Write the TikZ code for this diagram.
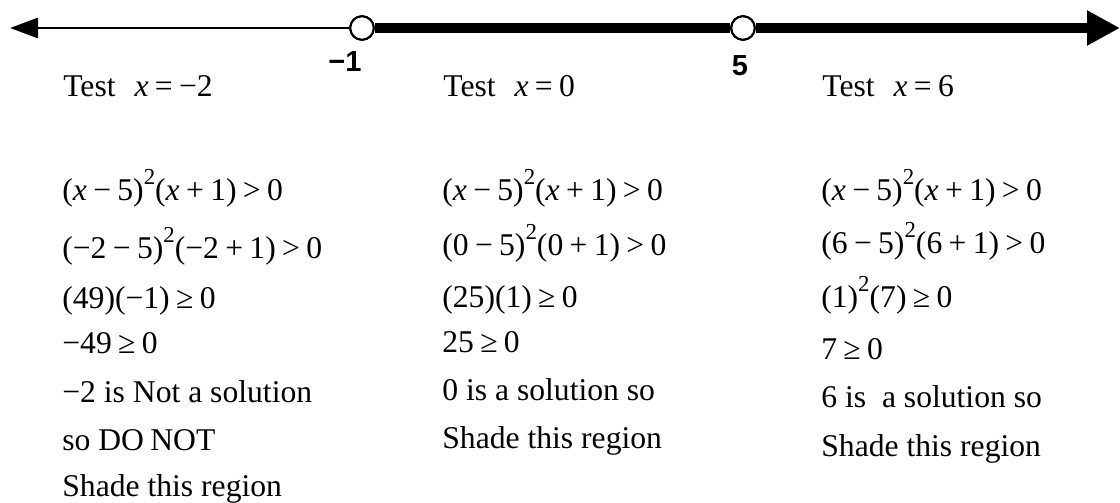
\documentclass[tikz,border=0pt]{standalone}
\usepackage{fontspec}
\setmainfont{Liberation Serif}
\setsansfont{Liberation Sans}
\usepackage{tikz}
\usetikzlibrary{arrows.meta}

\newcommand{\xv}{\textit{x}}
\newcommand{\sq}{\raisebox{0.5em}{\fontsize{13}{13}\selectfont 2}}
\newcommand{\op}[1]{\hspace{0.2em}#1\hspace{0.2em}}

\begin{document}
\begin{tikzpicture}[
    x=0.2mm,y=-0.2mm,
    hole/.style={circle,draw,fill=white,line width=1.2pt,minimum size=4.7mm,inner sep=0pt},
    thinline/.style={line width=1.7pt,-{Triangle[length=5.6mm,width=4mm]}},
    thickline/.style={line width=5.7pt},
    tick/.style={font=\sffamily\bfseries\fontsize{16.5}{18}\selectfont,anchor=base},
    work/.style={anchor=base west,inner sep=0pt,font=\fontsize{18}{20}\selectfont},
]
\useasboundingbox (0,0) rectangle (1120,503);

% ===== Number line =====
\coordinate (leftend) at (10,28);
\coordinate (rightend) at (1120,28);
\node[hole] (neg1) at (362,28) {};
\node[hole] (five) at (743,28) {};
\draw[thinline] (neg1.west) -- (leftend);
\draw[thickline] (neg1.east) -- (five.west);
\draw[thickline,-{Triangle[length=6.6mm,width=6.6mm]}] (five.east) -- (rightend);
\node[hole] at (neg1) {};
\node[hole] at (five) {};

\node[tick] (lblneg1) at (345,72) {−1};
\node[tick] (lblfive) at (740,75) {5};

% ===== Test x = -2 =====
\node[work] (ta) at (63,97) {Test\hspace{0.6em}\xv\op{=}−2};
\node[work] (a1) at (62,200) {(\xv\op{−}5)\sq(\xv\op{+}1)\op{>}0};
\node[work] (a2) at (62,258) {(−2\op{−}5)\sq(−2\op{+}1)\op{>}0};
\node[work] (a3) at (62,308) {(49)(−1)\op{≥}0};
\node[work] (a4) at (62,353) {−49\op{≥}0};
\node[work] (a5) at (62,402) {−2 is Not a solution};
\node[work] (a6) at (62,450) {so DO\hspace{0.2em}NOT};
\node[work] (a7) at (62,496) {Shade this region};

% ===== Test x = 0 =====
\node[work] (tb) at (443,97) {Test\hspace{0.6em}\xv\op{=}0};
\node[work] (b1) at (442,200) {(\xv\op{−}5)\sq(\xv\op{+}1)\op{>}0};
\node[work] (b2) at (442,255) {(0\op{−}5)\sq(0\op{+}1)\op{>}0};
\node[work] (b3) at (442,307) {(25)(1)\op{≥}0};
\node[work] (b4) at (442,352) {25\op{≥}0};
\node[work] (b5) at (442,400) {0 is a solution so};
\node[work] (b6) at (442,448) {Shade this region};

% ===== Test x = 6 =====
\node[work] (tc) at (822,97) {Test\hspace{0.6em}\xv\op{=}6};
\node[work] (c1) at (821,200) {(\xv\op{−}5)\sq(\xv\op{+}1)\op{>}0};
\node[work] (c2) at (821,253) {(6\op{−}5)\sq(6\op{+}1)\op{>}0};
\node[work] (c3) at (821,307) {(1)\sq(7)\op{≥}0};
\node[work] (c4) at (821,359) {7\op{≥}0};
\node[work] (c5) at (821,407) {6 is\ \ a solution so};
\node[work] (c6) at (821,456) {Shade this region};

\end{tikzpicture}
\end{document}
